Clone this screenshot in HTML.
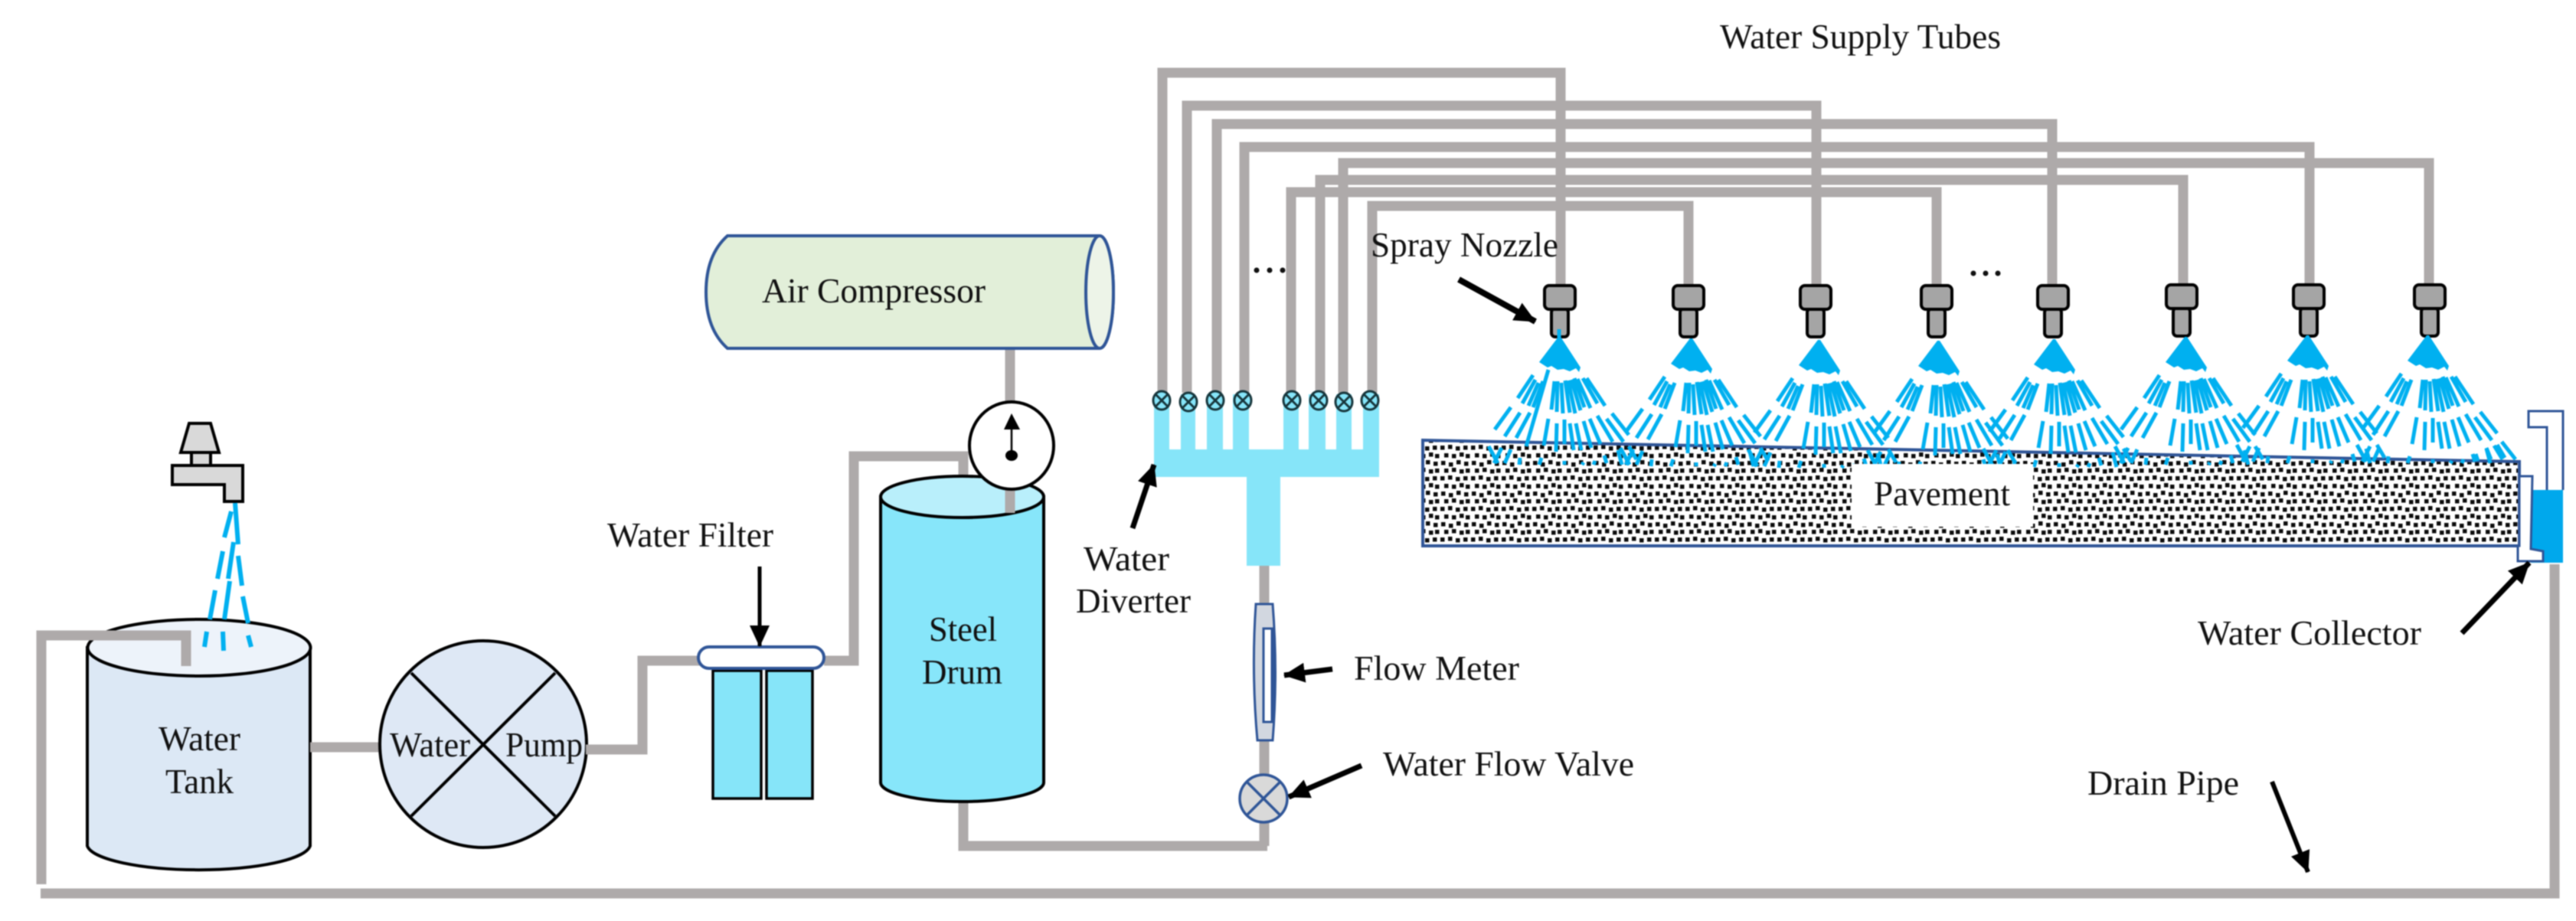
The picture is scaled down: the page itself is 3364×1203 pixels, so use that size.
<!DOCTYPE html>
<html><head><meta charset="utf-8"><title>Pavement spray system</title>
<style>html,body{margin:0;padding:0;background:#fff}svg{display:block;filter:blur(0.7px)}text{font-family:"Liberation Serif",serif;font-size:45px;fill:#111}</style>
</head><body>
<svg xmlns="http://www.w3.org/2000/svg" width="3364" height="1203" viewBox="0 0 3364 1203">
<defs>
<pattern id="dots" width="40" height="40" patternUnits="userSpaceOnUse">
<rect width="40" height="40" fill="#fff"/>
<g fill="#0c0c0c">
<rect x="2" y="2" width="5.500" height="5.500"/><rect x="12" y="4" width="5.500" height="5.500"/><rect x="22" y="1" width="5.500" height="5.500"/><rect x="32" y="3" width="5.500" height="5.500"/>
<rect x="6" y="12" width="5.500" height="5.500"/><rect x="16" y="11" width="5.500" height="5.500"/><rect x="26" y="13" width="5.500" height="5.500"/><rect x="34" y="12" width="5.500" height="5.500"/>
<rect x="1" y="22" width="5.500" height="5.500"/><rect x="11" y="21" width="5.500" height="5.500"/><rect x="21" y="23" width="5.500" height="5.500"/><rect x="31" y="22" width="5.500" height="5.500"/>
<rect x="6" y="32" width="5.500" height="5.500"/><rect x="16" y="33" width="5.500" height="5.500"/><rect x="26" y="31" width="5.500" height="5.500"/><rect x="34" y="33" width="5.500" height="5.500"/>
</g>
</pattern>
<marker id="ah" viewBox="0 0 28 26" refX="27" refY="13" markerWidth="28" markerHeight="26" markerUnits="userSpaceOnUse" orient="auto"><path d="M0 0L28 13L0 26Z" fill="#000"/></marker>
<g id="spray" stroke="#00b0f0" stroke-width="5" fill="none">
<polygon points="-1,0 2,0 28,40 26,46 22,41 14,45 6,42 -2,43 -10,38 -15,40 -26,33" fill="#00b0f0" stroke="none"/>
<path d="M-34 50L-54 80M-31 56L-48 87M-27 60L-40 90M-21 58L-34 92M-6 58L-10 95M-2 58L-3 98M3 60L5 100M8 57L14 99M12 57L21 100M16 56L28 96M20 54L33 92M24 55L41 93M31 54L50 87M36 54L60 90"/>
<path d="M-63 92L-84 121M-51 99L-71 130M-38 99L-56 132M-14 107L-20 142M-3 113L-4 150M7 108L7 140M14 113L19 148M22 113L29 148M32 110L42 145M40 107L54 140M50 103L70 137M62 107L84 137M69 100L91 128"/>
<path d="M-63 147L-71 165M-51 158L-52 167M-23 158L-26 167M7 162L7 167M32 164L30 167M47 162L45 167M59 155L62 165M77 148L82 167M91 143L101 160M-75 145L-85 165M-92 143L-80 165"/>
</g>
<g id="noz" fill="#a5a5a5" stroke="#000" stroke-width="4">
<rect x="-11" y="30" width="22" height="37" rx="5"/>
<rect x="-20" y="0" width="40" height="31" rx="6"/>
</g>
</defs>
<rect width="3364" height="1203" fill="#fff"/>

<!-- tank -->
<path d="M114 846V1105A146 34 0 0 0 405 1105V846Z" fill="#dce8f5" stroke="#000" stroke-width="4"/>
<ellipse cx="260" cy="846" rx="145.500" ry="37" fill="#edf3fa" stroke="#000" stroke-width="4"/>
<path d="M54 1155V830H243V870" fill="none" stroke="#aeaaaa" stroke-width="13"/>
<!-- faucet -->
<path d="M247 553H275L286 591H236Z M250 591H275V608H250Z M225 608H317V655H293V633H225Z" fill="#d9d9d9" stroke="#000" stroke-width="4" stroke-linejoin="miter"/>
<path d="M307 657L311 711M302 668L293 702M291 720L284 756M305 708L298 756M311 726L316 765M281 771L274 809M300 759L293 809M317 779L324 814M270 825L267 845M291 825L292 850M324 830L328 845" stroke="#00b0f0" stroke-width="6" fill="none"/>
<text x="207" y="980" textLength="107" lengthAdjust="spacingAndGlyphs">Water</text>
<text x="216" y="1036" textLength="89" lengthAdjust="spacingAndGlyphs">Tank</text>
<!-- pump -->
<path d="M405 976H497" stroke="#aeaaaa" stroke-width="13"/>
<ellipse cx="631" cy="972" rx="135" ry="135" fill="#dee8f5" stroke="#000" stroke-width="4"/>
<path d="M537 879L725 1066M725 879L537 1066" stroke="#000" stroke-width="4"/>
<text x="509" y="988" textLength="105" lengthAdjust="spacingAndGlyphs">Water</text>
<text x="660" y="988" textLength="101" lengthAdjust="spacingAndGlyphs">Pump</text>
<path d="M765 979H839V863H915" fill="none" stroke="#aeaaaa" stroke-width="13"/>
<!-- filter -->
<path d="M1076 863H1115V596H1258V625" fill="none" stroke="#aeaaaa" stroke-width="13"/>
<rect x="931" y="876" width="63" height="167" fill="#86e5f9" stroke="#000" stroke-width="3.500"/>
<rect x="1001" y="876" width="60" height="167" fill="#86e5f9" stroke="#000" stroke-width="3.500"/>
<rect x="912" y="845" width="164" height="28" rx="14" fill="#fff" stroke="#2f5597" stroke-width="4"/>
<path d="M992 740V844" stroke="#000" stroke-width="5" marker-end="url(#ah)"/>
<text x="793" y="714" textLength="217" lengthAdjust="spacingAndGlyphs">Water Filter</text>
<!-- drum -->
<path d="M1258 1040V1105H1655" fill="none" stroke="#aeaaaa" stroke-width="13"/>
<path d="M1150 649V1022A106.500 25 0 0 0 1363 1022V649Z" fill="#87e6fa" stroke="#000" stroke-width="4"/>
<ellipse cx="1256.500" cy="649" rx="106.500" ry="27" fill="#b9effb" stroke="#000" stroke-width="4"/>
<path d="M1319 455V670" stroke="#aeaaaa" stroke-width="13"/>
<ellipse cx="1321" cy="582" rx="55" ry="57" fill="#fff" stroke="#000" stroke-width="4"/>
<path d="M1321 555V595" stroke="#000" stroke-width="2.500"/>
<path d="M1321 540L1332 561H1311Z" fill="#000"/>
<ellipse cx="1321" cy="595" rx="8" ry="7" fill="#000"/>
<text x="1213" y="837" textLength="89" lengthAdjust="spacingAndGlyphs">Steel</text>
<text x="1204" y="893" textLength="105" lengthAdjust="spacingAndGlyphs">Drum</text>
<!-- compressor -->
<path d="M950 308H1436A18 73.500 0 0 1 1436 455H950Q922 430 922 381.500Q922 333 950 308Z" fill="#e2efd9" stroke="#2f5597" stroke-width="4"/>
<ellipse cx="1436" cy="381.500" rx="18" ry="73.500" fill="#edf4e8" stroke="#2f5597" stroke-width="4"/>
<text x="995" y="395" textLength="292" lengthAdjust="spacingAndGlyphs">Air Compressor</text>
<!-- tubes -->
<g fill="none" stroke="#aeaaaa" stroke-width="13">
<path d="M1518 513V95H2038V375"/>
<path d="M1550 513V138H2372V375"/>
<path d="M1589 513V162H2680V375"/>
<path d="M1625 513V192H3016V375"/>
<path d="M1686 513V251H2529V375"/>
<path d="M1724 513V235H2851V375"/>
<path d="M1754 513V213H3172V375"/>
<path d="M1792 513V269H2205V375"/>
</g>
<!-- diverter -->
<path d="M1507 515H1527V587H1542V515H1561V587H1576V515H1597V587H1610V515H1631V587H1676V515H1696V587H1709V515H1731V587H1745V515H1765V587H1780V515H1801V623H1672V739H1628V623H1507Z" fill="#86e5f9"/>
<g fill="#86e5f9" stroke="#17363c" stroke-width="3">
<g><ellipse cx="1517" cy="523" rx="11" ry="12"/><path d="M1509 515L1525 531M1525 515L1509 531"/></g>
<g><ellipse cx="1552" cy="525" rx="11" ry="12"/><path d="M1544 517L1560 533M1560 517L1544 533"/></g>
<g><ellipse cx="1587" cy="523" rx="11" ry="12"/><path d="M1579 515L1595 531M1595 515L1579 531"/></g>
<g><ellipse cx="1623" cy="523" rx="11" ry="12"/><path d="M1615 515L1631 531M1631 515L1615 531"/></g>
<g><ellipse cx="1687" cy="523" rx="11" ry="12"/><path d="M1679 515L1695 531M1695 515L1679 531"/></g>
<g><ellipse cx="1722" cy="523" rx="11" ry="12"/><path d="M1714 515L1730 531M1730 515L1714 531"/></g>
<g><ellipse cx="1755" cy="525" rx="11" ry="12"/><path d="M1747 517L1763 533M1763 517L1747 533"/></g>
<g><ellipse cx="1789" cy="523" rx="11" ry="12"/><path d="M1781 515L1797 531M1797 515L1781 531"/></g>
</g>
<path d="M1479 690L1507 607" stroke="#000" stroke-width="7" marker-end="url(#ah)"/>
<text x="1415" y="745" textLength="112" lengthAdjust="spacingAndGlyphs">Water</text>
<text x="1405" y="800" textLength="150" lengthAdjust="spacingAndGlyphs">Diverter</text>
<!-- meter, valve -->
<path d="M1651 739V1105" stroke="#aeaaaa" stroke-width="13"/>
<path d="M1640 789H1662Q1669 878 1662 967H1642Q1634 878 1640 789Z" fill="#d2d7e0" stroke="#2f5597" stroke-width="3"/>
<rect x="1650" y="821" width="12" height="122" fill="#fff" stroke="#2f5597" stroke-width="3"/>
<path d="M1662 821V943" stroke="#2f5597" stroke-width="5"/>
<ellipse cx="1650" cy="1043" rx="31" ry="31" fill="#d9d9d9" stroke="#2f5597" stroke-width="3.500"/>
<path d="M1628 1021L1672 1065M1672 1021L1628 1065" stroke="#2f5597" stroke-width="3.500"/>
<path d="M1740 874L1677 882" stroke="#000" stroke-width="7" marker-end="url(#ah)"/>
<path d="M1778 1000L1683 1041" stroke="#000" stroke-width="7" marker-end="url(#ah)"/>
<text x="1768" y="888" textLength="216" lengthAdjust="spacingAndGlyphs">Flow Meter</text>
<text x="1806" y="1013" textLength="328" lengthAdjust="spacingAndGlyphs">Water Flow Valve</text>
<!-- pavement -->
<polygon points="1858,575 3290,603 3290,713 1858,713" fill="url(#dots)" stroke="#2f5597" stroke-width="4"/>
<!-- nozzles -->
<use href="#noz" x="2037" y="373"/><use href="#noz" x="2205" y="373"/><use href="#noz" x="2371" y="373"/><use href="#noz" x="2529" y="373"/>
<use href="#noz" x="2681" y="373"/><use href="#noz" x="2849" y="372"/><use href="#noz" x="3015" y="372"/><use href="#noz" x="3173" y="372"/>
<use href="#spray" x="2036" y="440"/><use href="#spray" x="2208" y="442"/><use href="#spray" x="2375" y="444"/><use href="#spray" x="2531" y="445"/>
<use href="#spray" x="2682" y="443"/><use href="#spray" x="2854" y="440"/><use href="#spray" x="3013" y="438"/><use href="#spray" x="3170" y="438"/>
<path d="M2036 430V445M2022 483L1993 583M3233 593L3236 602M3247 585L3253 600M3257 582L3268 600M3267 577L3285 600" stroke="#00b0f0" stroke-width="5" fill="none"/>
<rect x="2418" y="606" width="237" height="82" fill="#fff"/>
<text x="2447" y="660" textLength="178" lengthAdjust="spacingAndGlyphs">Pavement</text>
<!-- collector -->
<path d="M3336 737V1167H53" fill="none" stroke="#aeaaaa" stroke-width="13"/>
<rect x="3305" y="640" width="42" height="95" fill="#00a8ec"/>
<path d="M3290 622H3307L3305 717L3321 720V733H3288V713H3290Z" fill="#fff" stroke="#2f5597" stroke-width="3"/>
<path d="M3326 640V558H3302V537H3347V640" fill="#fff" stroke="#2f5597" stroke-width="3"/>
<path d="M3215 827L3303 735" stroke="#000" stroke-width="7" marker-end="url(#ah)"/>
<text x="2870" y="842" textLength="292" lengthAdjust="spacingAndGlyphs">Water Collector</text>
<path d="M2967 1021L3014 1139" stroke="#000" stroke-width="6" marker-end="url(#ah)"/>
<text x="2726" y="1038" textLength="198" lengthAdjust="spacingAndGlyphs">Drain Pipe</text>
<path d="M1905 365L2005 420" stroke="#000" stroke-width="8" marker-end="url(#ah)"/>
<text x="1790" y="335" textLength="245" lengthAdjust="spacingAndGlyphs">Spray Nozzle</text>
<text x="2246" y="63" textLength="367" lengthAdjust="spacingAndGlyphs">Water Supply Tubes</text>
<g fill="#111"><circle cx="1641" cy="353" r="3.500"/><circle cx="1658" cy="353" r="3.500"/><circle cx="1675" cy="353" r="3.500"/><circle cx="2577" cy="357" r="3.500"/><circle cx="2593" cy="357" r="3.500"/><circle cx="2609" cy="357" r="3.500"/></g>
</svg>
</body></html>
